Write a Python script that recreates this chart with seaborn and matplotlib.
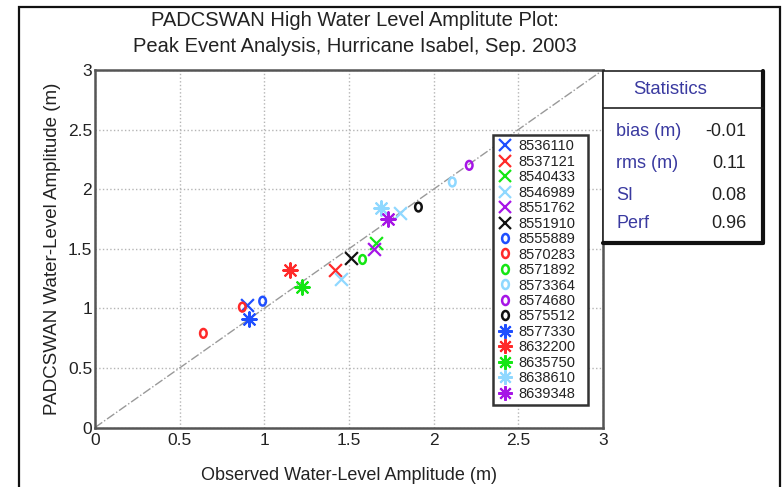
import matplotlib
matplotlib.use("Agg")
import numpy as np
import pandas as pd
import seaborn as sns
import matplotlib.pyplot as plt
from matplotlib.markers import MarkerStyle
from matplotlib.transforms import Affine2D
from matplotlib.lines import Line2D
from matplotlib.patches import Rectangle

# ---------------- data ----------------
stations = ["8536110", "8537121", "8540433", "8546989", "8551762", "8551910",
            "8555889", "8570283", "8571892", "8573364", "8574680", "8575512",
            "8577330", "8632200", "8635750", "8638610", "8639348"]
point_station = ["8536110", "8537121", "8540433", "8546989", "8546989", "8551762",
                 "8551910", "8555889", "8570283", "8570283", "8571892", "8573364",
                 "8574680", "8575512", "8577330", "8632200", "8635750", "8638610",
                 "8639348"]
observed = [0.90, 1.42, 1.66, 1.45, 1.80, 1.65, 1.51, 0.99, 0.64, 0.87, 1.58, 2.11,
            2.21, 1.91, 0.91, 1.15, 1.22, 1.69, 1.73]
modeled = [1.03, 1.32, 1.55, 1.25, 1.80, 1.50, 1.42, 1.06, 0.79, 1.01, 1.41, 2.06,
           2.20, 1.85, 0.91, 1.32, 1.18, 1.84, 1.75]
stat_names = ["bias (m)", "rms (m)", "SI", "Perf"]
stat_values = ["-0.01", "0.11", "0.08", "0.96"]
ticks = [0, 0.5, 1, 1.5, 2, 2.5, 3]
tick_labels = ["0", "0.5", "1", "1.5", "2", "2.5", "3"]

# ---------------- styles ----------------
cycle_colors = ["#1f4fff", "#ff2a2a", "#14e614", "#8fd8ff", "#a615e6", "#111111"]
oval = MarkerStyle("o", transform=Affine2D().scale(0.75, 1.0))
asterisk = (8, 2, 0)

def style_for(i):
    color = cycle_colors[i % 6]
    group = i // 6
    if group == 0:
        return color, "x", 85, 1.6, False
    if group == 1:
        return color, oval, 40, 1.8, True
    return color, asterisk, 110, 1.5, False

df = pd.DataFrame({"station": point_station, "observed": observed, "modeled": modeled})

sns.set_theme(style="white")
plt.rcParams["font.family"] = ["Liberation Sans", "DejaVu Sans"]

fig = plt.figure(figsize=(7.82, 4.87), dpi=100)
ax = fig.add_axes([95 / 782, 1 - 427.5 / 487, (603 - 95) / 782, (427.5 - 70) / 487])

# 1:1 line
ax.plot([0, 3], [0, 3], linestyle="-.", color="#999999", linewidth=1.0, zorder=1)

handles = []
for i, st in enumerate(stations):
    color, marker, size, lw, hollow = style_for(i)
    sub = df[df["station"] == st]
    if hollow:
        sns.scatterplot(data=sub, x="observed", y="modeled", ax=ax, marker=marker,
                        s=size, color=color, facecolor="none", edgecolor=color,
                        linewidth=lw, legend=False, zorder=3)
    else:
        sns.scatterplot(data=sub, x="observed", y="modeled", ax=ax, marker=marker,
                        s=size, color=color, linewidth=lw, legend=False, zorder=3)
    if hollow:
        h = Line2D([], [], linestyle="none", marker=marker, markersize=6.5,
                   markerfacecolor="none", markeredgecolor=color, markeredgewidth=lw)
    else:
        h = Line2D([], [], linestyle="none", marker=marker,
                   markersize=np.sqrt(size), color=color, markeredgewidth=lw)
    handles.append(h)

ax.set_xlim(0, 3)
ax.set_ylim(0, 3)
ax.set_xticks(ticks)
ax.set_xticklabels(tick_labels)
ax.set_yticks(ticks)
ax.set_yticklabels(tick_labels)
ax.tick_params(direction="in", length=4, width=1, labelsize=12.5, colors="#222222",
               pad=2, top=False, right=False)
ax.tick_params(axis="x", pad=4)
ax.grid(True, linestyle=":", color="#b5b5b5", linewidth=1.0)
for sp in ax.spines.values():
    sp.set_color("#555555")
    sp.set_linewidth(1.8)

ax.set_xlabel("Observed Water-Level Amplitude (m)", fontsize=13, color="#222222", labelpad=14)
ax.set_ylabel("PADCSWAN Water-Level Amplitude (m)", fontsize=13.5, color="#222222", labelpad=5)

# Legend box frame drawn separately (wider than content, as in reference)
lx0, lx1 = (493 - 95) / 508, (588 - 95) / 508
ly0, ly1 = (427.5 - 405) / 357.5, (427.5 - 135) / 357.5
ax.add_patch(Rectangle((lx0, ly0), lx1 - lx0, ly1 - ly0, transform=ax.transAxes,
                       facecolor="white", edgecolor="#333333", linewidth=1.8, zorder=4))
leg = ax.legend(handles, stations, loc="upper left", bbox_to_anchor=(lx0, ly1),
                fontsize=10.5, frameon=False, borderpad=0.3,
                labelspacing=0.1, handlelength=1.0, handletextpad=0.45,
                borderaxespad=0.0)
leg.set_zorder(5)
for t in leg.get_texts():
    t.set_color("#222222")

# Title
fig.text(355 / 782, 1 - 20 / 487, "PADCSWAN High Water Level Amplitute Plot:",
         ha="center", va="center", fontsize=14.5, color="#222222")
fig.text(355 / 782, 1 - 46 / 487, "Peak Event Analysis, Hurricane Isabel, Sep. 2003",
         ha="center", va="center", fontsize=14.5, color="#222222")

# Outer frame (bottom open, beyond image)
fig.patches.append(Rectangle((19 / 782, -0.1), (780 - 19) / 782, 1.1 - 7 / 487,
                             transform=fig.transFigure, fill=False,
                             edgecolor="#111111", linewidth=1.6))

# Statistics box
bx0, bx1 = 603 / 782, 763 / 782
by0, by1 = 1 - 243 / 487, 1 - 71 / 487
fig.patches.append(Rectangle((bx0, by0), bx1 - bx0, by1 - by0, transform=fig.transFigure,
                             fill=True, facecolor="white", edgecolor="#222222",
                             linewidth=1.2, zorder=5))
fig.lines.append(Line2D([bx1, bx1], [by0, by1], transform=fig.transFigure,
                        color="#111111", linewidth=3, zorder=6))
fig.lines.append(Line2D([bx0, bx1], [by0, by0], transform=fig.transFigure,
                        color="#111111", linewidth=3, zorder=6))
fig.lines.append(Line2D([bx0, bx1], [1 - 108 / 487] * 2, transform=fig.transFigure,
                        color="#222222", linewidth=1.2, zorder=6))
fig.text(670 / 782, 1 - 89 / 487, "Statistics", ha="center", va="center",
         fontsize=13.3, color="#3a3aa0", zorder=7)
row_y = [132, 164, 195, 223]
for name, val, yy in zip(stat_names, stat_values, row_y):
    fig.text(616 / 782, 1 - yy / 487, name, ha="left", va="center", fontsize=13,
             color="#3a3aa0", zorder=7)
    fig.text(746 / 782, 1 - yy / 487, val, ha="right", va="center", fontsize=13,
             color="#222222", zorder=7)

fig.savefig("out.png", dpi=100)
